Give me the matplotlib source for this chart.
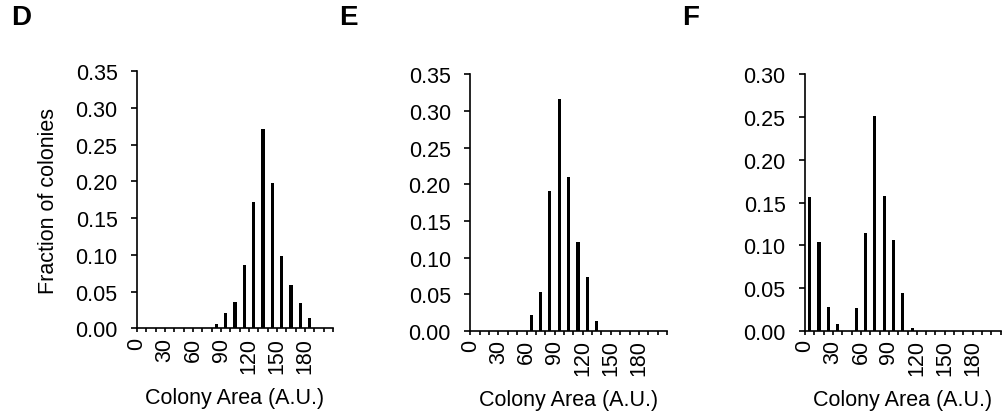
import numpy as np
import matplotlib
matplotlib.use('Agg')
import matplotlib.pyplot as plt

plt.rcParams['font.family'] = ['Liberation Sans', 'DejaVu Sans']

# Гистограммы площади колоний: бины по 10 A.U. (0..200)
bins = np.arange(0, 210, 10)

frac_D = [0, 0, 0, 0, 0, 0, 0, 0, 0.006, 0.021, 0.036, 0.086, 0.172, 0.271,
          0.198, 0.099, 0.059, 0.035, 0.014, 0, 0]
frac_E = [0, 0, 0, 0, 0, 0, 0.022, 0.053, 0.191, 0.317, 0.210, 0.121, 0.074,
          0.013, 0, 0, 0, 0, 0, 0, 0]
frac_F = [0.157, 0.104, 0.028, 0.008, 0, 0.027, 0.114, 0.251, 0.158, 0.106,
          0.044, 0.003, 0, 0, 0, 0, 0, 0, 0, 0, 0]

panels = ['D', 'E', 'F']
ytops = [0.35, 0.35, 0.30]

W, H = 1002, 414
fig = plt.figure(figsize=(W / 100, H / 100), dpi=100)
fig.set_facecolor('white')

# положение осей в пикселях: left, right, top, bottom
boxes = [(137, 333, 72, 329.3), (470.3, 667, 75.3, 332), (805, 1000.7, 75.3, 332)]
letter_x = [11, 339, 682]

for k, (name, data, ytop) in enumerate(zip(panels, [frac_D, frac_E, frac_F], ytops)):
    l, r, t, b = boxes[k]
    ax = fig.add_axes([l / W, 1 - b / H, (r - l) / W, (b - t) / H])
    ax.bar(bins + 5, data, width=3.3, color='black', linewidth=0)

    ax.set_xlim(0, 210)
    ax.set_ylim(0, ytop)
    ax.spines['top'].set_visible(False)
    ax.spines['right'].set_visible(False)
    for s in ['left', 'bottom']:
        ax.spines[s].set_linewidth(1.2)

    ticks = np.arange(0, 211, 10)
    ax.set_xticks(ticks)
    ax.set_xticklabels([str(v) if v % 30 == 0 and v <= 180 else '' for v in ticks],
                       rotation=90, va='top', ha='center')
    yt = np.arange(0, ytop + 0.001, 0.05)
    ax.set_yticks(yt)
    ax.set_yticklabels(['%.2f' % v for v in yt])
    ax.tick_params(axis='x', direction='out', length=3, width=1.2, pad=3, labelsize=15.5)
    ax.tick_params(axis='y', direction='out', length=4, width=1.2, pad=10, labelsize=15.5)

    ax.set_xlabel('Colony Area (A.U.)', fontsize=15.5, labelpad=10)
    if name == 'D':
        ax.set_ylabel('Fraction of colonies', fontsize=15.5, labelpad=12)

    fig.text(letter_x[k] / W, 1 - 5 / H, name, fontsize=20, fontweight='bold',
             va='top', ha='left')

fig.savefig('out.png', dpi=100)
